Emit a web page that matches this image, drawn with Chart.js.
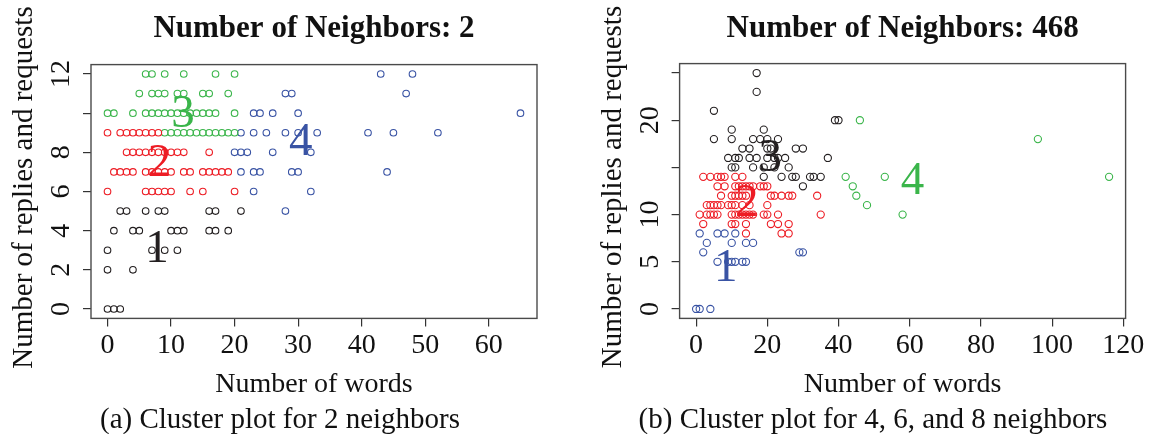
<!DOCTYPE html>
<html>
<head>
<meta charset="utf-8">
<script src="https://cdn.jsdelivr.net/npm/chart.js@4.4.1/dist/chart.umd.min.js"></script>
<style>
body { margin: 0; background: #fff; }
#wrap { position: relative; width: 1150px; height: 434px; overflow: hidden; }
.panel { position: absolute; top: 0; width: 575px; height: 434px; }
.caption { position: absolute; top: 404px; font: 29px "Liberation Serif", serif; line-height: 1; color: #111; white-space: nowrap; transform: translateX(-50%); }
</style>
</head>
<body>
<div id="wrap">
  <div class="panel" style="left:0"><canvas id="chartA" width="575" height="434"></canvas></div>
  <div class="panel" style="left:575px"><canvas id="chartB" width="575" height="434"></canvas></div>
  <div class="caption" style="left:280px">(a) Cluster plot for 2 neighbors</div>
  <div class="caption" style="left:873px">(b) Cluster plot for 4, 6, and 8 neighbors</div>
</div>
<script>
// painel (a): 2 vizinhos -- cada linha = um valor de respostas, com as palavras dos pontos
var aC1Replies = [0, 2, 3, 4, 5];
var aC1Words = [[0, 1, 2], [0, 4], [0, 7, 9, 11], [1, 4, 5, 10, 11, 12, 16, 17, 19], [2, 3, 6, 8, 9, 16, 17, 21]];
var aC2Replies = [6, 7, 8, 9];
var aC2Words = [[0, 6, 7, 8, 9, 10, 13, 15, 20], [1, 2, 3, 4, 6, 7, 8, 9, 10, 12, 13, 15, 16, 17, 18, 19], [3, 4, 5, 6, 7, 8, 9, 10, 11, 12, 16], [0, 2, 3, 4, 5, 6, 7, 8]];
var aC3Replies = [9, 10, 11, 12];
var aC3Words = [[9, 10, 11, 12, 13, 14, 15, 16, 17, 18, 19, 20], [0, 1, 4, 6, 7, 8, 9, 10, 11, 12, 13, 14, 15, 16, 17, 20], [5, 7, 8, 9, 11, 12, 15, 16, 19], [6, 7, 9, 12, 17, 20]];
var aC4Replies = [5, 6, 7, 8, 9, 10, 11, 12];
var aC4Words = [[28], [23, 32], [21, 23, 24, 29, 30, 44], [20, 21, 22, 26, 32], [21, 23, 25, 28, 30, 33, 41, 45, 52], [23, 24, 26, 30, 65], [28, 29, 47], [43, 48]];
var aXTicks = [0, 10, 20, 30, 40, 50, 60];
var aYTicks = [0, 2, 4, 6, 8, 10, 12];
var aYLabels = [0, 2, 4, 6, 8, 12];

// painel (b): 468 vizinhos
var bC1Replies = [0, 5, 6, 7, 8];
var bC1Words = [[0, 1, 4], [6, 9, 10, 11, 13, 14], [2, 29, 30], [3, 10, 14, 16], [1, 6, 8, 11]];
var bC2Replies = [8, 9, 10, 11, 12, 13, 14];
var bC2Words = [[14, 24, 26], [2, 10, 11, 14, 21, 23, 26], [1, 3, 4, 5, 6, 10, 11, 12, 13, 14, 15, 16, 19, 20, 23, 35], [3, 4, 5, 6, 7, 9, 10, 11, 13, 15, 20], [7, 10, 11, 12, 13, 14, 21, 22, 24, 26, 27, 34], [6, 8, 11, 12, 13, 14, 15, 16, 18, 19, 20], [2, 4, 6, 7, 8, 11, 13]];
var bC3Replies = [13, 14, 15, 16, 17, 18, 19, 20, 21, 23, 25];
var bC3Words = [[30], [19, 24, 27, 28, 32, 33, 35], [10, 11, 16, 19, 22, 26], [9, 11, 12, 15, 17, 20, 22, 23, 25, 37], [13, 15, 20, 21, 28, 30], [5, 10, 16, 18, 20, 23], [10, 19], [39, 40], [5], [17], [17]];
var bC4Replies = [10, 11, 12, 13, 14, 18, 20];
var bC4Words = [[58], [48], [45], [44], [42, 53, 116], [96], [46]];
var bXTicks = [0, 20, 40, 60, 80, 100, 120];
var bYTicks = [0, 5, 10, 15, 20, 25];
var bYLabels = [0, 5, 10, 20];

var PRETO = '#231f20';
var VERMELHO = '#ed1c24';
var VERDE = '#3ab54a';
var AZUL = '#3953a4';
var FONTE = '"Liberation Serif", "Times New Roman", serif';

function toPoints(replies, words) {
    var pts = [];
    for (var i = 0; i < replies.length; i++) {
        for (var j = 0; j < words[i].length; j++) {
            pts.push({ x: words[i][j], y: replies[i] });
        }
    }
    return pts;
}

// faixa padrao do R: 4% de folga em cada lado
function rRange(values) {
    var lo = Math.min.apply(null, values);
    var hi = Math.max.apply(null, values);
    var pad = (hi - lo) * 0.04;
    return { min: lo - pad, max: hi + pad };
}

function rPlotPlugin(p) {
    return {
        id: 'rPlot',
        afterDatasetsDraw: function(chart) {
            var ctx = chart.ctx;
            var xs = chart.scales.x, ys = chart.scales.y;
            ctx.save();
            ctx.font = '47px ' + FONTE;
            ctx.textAlign = 'center';
            ctx.textBaseline = 'alphabetic';
            for (var i = 0; i < p.marks.length; i++) {
                var m = p.marks[i];
                ctx.fillStyle = m.color;
                ctx.fillText(m.text, xs.getPixelForValue(m.x), ys.getPixelForValue(m.y) + 16);
            }
            ctx.restore();
        },
        afterDraw: function(chart) {
            var ctx = chart.ctx;
            var a = chart.chartArea;
            var xs = chart.scales.x, ys = chart.scales.y;
            ctx.save();
            ctx.strokeStyle = '#4a4a4a';
            ctx.lineWidth = 1.4;
            ctx.strokeRect(a.left, a.top, a.right - a.left, a.bottom - a.top);

            ctx.fillStyle = '#111';
            ctx.font = '28px ' + FONTE;
            ctx.textAlign = 'center';
            ctx.textBaseline = 'alphabetic';
            for (var i = 0; i < p.xTicks.length; i++) {
                ctx.fillText(String(p.xTicks[i]), xs.getPixelForValue(p.xTicks[i]), a.bottom + 35);
            }
            for (var k = 0; k < p.yLabels.length; k++) {
                ctx.save();
                ctx.translate(a.left - 22, ys.getPixelForValue(p.yLabels[k]));
                ctx.rotate(-Math.PI / 2);
                ctx.fillText(String(p.yLabels[k]), 0, 0);
                ctx.restore();
            }
            ctx.fillText('Number of words', (a.left + a.right) / 2, a.bottom + 74);
            ctx.save();
            ctx.font = '29px ' + FONTE;
            ctx.translate(a.left - 59, (a.top + a.bottom) / 2 - 4);
            ctx.rotate(-Math.PI / 2);
            ctx.fillText('Number of replies and requests', 0, 0);
            ctx.restore();

            ctx.font = 'bold 31px ' + FONTE;
            ctx.fillText(p.title, (a.left + a.right) / 2, 37);
            ctx.restore();
        }
    };
}

function desenharPainel(id, p) {
    var datasets = [];
    var allX = [], allY = [];
    for (var i = 0; i < p.clusters.length; i++) {
        var c = p.clusters[i];
        for (var j = 0; j < c.points.length; j++) {
            allX.push(c.points[j].x);
            allY.push(c.points[j].y);
        }
        datasets.push({
            data: c.points,
            borderColor: c.color,
            backgroundColor: 'rgba(0,0,0,0)',
            pointRadius: p.radius,
            pointHoverRadius: p.radius,
            pointBorderWidth: 1.1
        });
    }
    var xr = rRange(allX);
    var yr = rRange(allY);

    new Chart(document.getElementById(id), {
        type: 'scatter',
        data: { datasets: datasets },
        options: {
            responsive: false,
            animation: false,
            devicePixelRatio: 1,
            layout: { padding: p.padding },
            plugins: {
                legend: { display: false },
                tooltip: { enabled: false },
                title: { display: false }
            },
            scales: {
                x: {
                    type: 'linear',
                    min: xr.min,
                    max: xr.max,
                    border: { display: false },
                    grid: { drawOnChartArea: false, drawTicks: true, tickLength: 8, color: '#333', lineWidth: 1.2 },
                    ticks: { display: false },
                    afterBuildTicks: function(s) { s.ticks = p.xTicks.map(function(v) { return { value: v }; }); },
                    afterFit: function(s) { s.height = 0; }
                },
                y: {
                    type: 'linear',
                    min: yr.min,
                    max: yr.max,
                    border: { display: false },
                    grid: { drawOnChartArea: false, drawTicks: true, tickLength: 8, color: '#333', lineWidth: 1.2 },
                    ticks: { display: false },
                    afterBuildTicks: function(s) { s.ticks = p.yTicks.map(function(v) { return { value: v }; }); },
                    afterFit: function(s) { s.width = 0; }
                }
            }
        },
        plugins: [rPlotPlugin(p)]
    });
}

desenharPainel('chartA', {
    title: 'Number of Neighbors: 2',
    padding: { left: 91, right: 38, top: 64.6, bottom: 115.6 },
    radius: 3.3,
    xTicks: aXTicks,
    yTicks: aYTicks,
    yLabels: aYLabels,
    clusters: [
        { points: toPoints(aC1Replies, aC1Words), color: PRETO },
        { points: toPoints(aC2Replies, aC2Words), color: VERMELHO },
        { points: toPoints(aC3Replies, aC3Words), color: VERDE },
        { points: toPoints(aC4Replies, aC4Words), color: AZUL }
    ],
    marks: [
        { text: '1', x: 7.8, y: 3.2, color: PRETO },
        { text: '2', x: 8.2, y: 7.6, color: VERMELHO },
        { text: '3', x: 11.9, y: 10.1, color: VERDE },
        { text: '4', x: 30.4, y: 8.7, color: AZUL }
    ]
});

desenharPainel('chartB', {
    title: 'Number of Neighbors: 468',
    padding: { left: 104.6, right: 24.4, top: 63.6, bottom: 115.6 },
    radius: 3.6,
    xTicks: bXTicks,
    yTicks: bYTicks,
    yLabels: bYLabels,
    clusters: [
        { points: toPoints(bC1Replies, bC1Words), color: AZUL },
        { points: toPoints(bC2Replies, bC2Words), color: VERMELHO },
        { points: toPoints(bC3Replies, bC3Words), color: PRETO },
        { points: toPoints(bC4Replies, bC4Words), color: VERDE }
    ],
    marks: [
        { text: '1', x: 8.3, y: 4.7, color: AZUL },
        { text: '2', x: 14.2, y: 11.5, color: VERMELHO },
        { text: '3', x: 20.8, y: 16.3, color: PRETO },
        { text: '4', x: 60.8, y: 13.9, color: VERDE }
    ]
});
</script>
</body>
</html>
